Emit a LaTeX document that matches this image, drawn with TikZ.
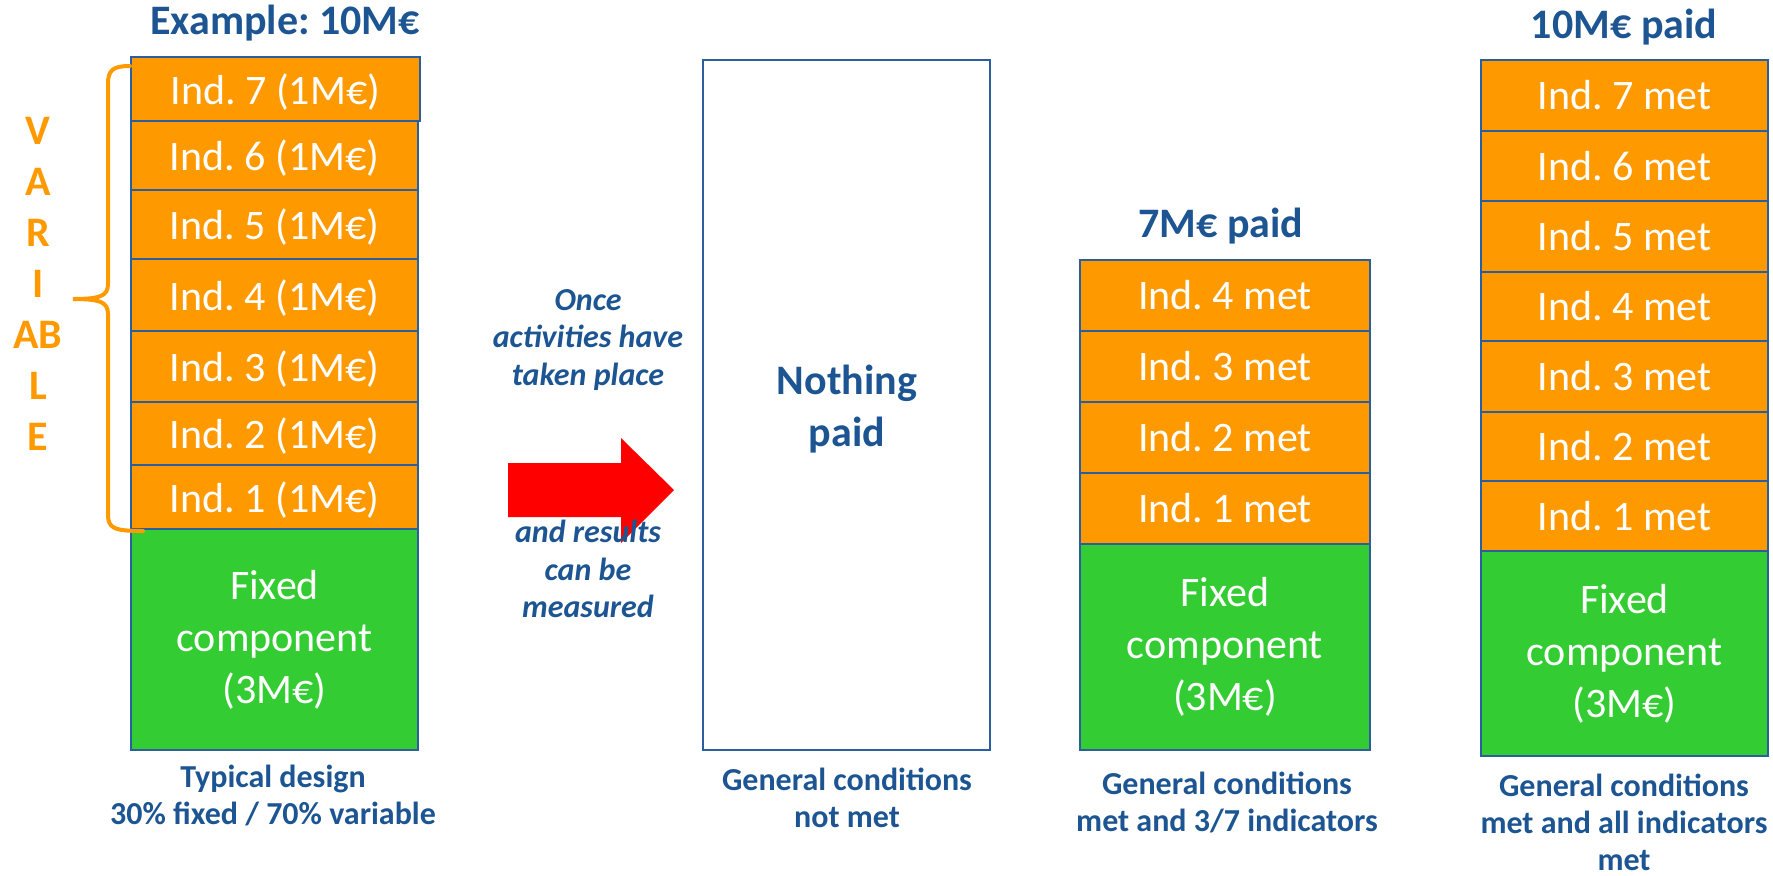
\documentclass[tikz,border=0pt]{standalone}
\usepackage{fontspec}
\setmainfont{Carlito}
\definecolor{orng}{HTML}{FF9900}
\definecolor{grn}{HTML}{33CC33}
\definecolor{txtblue}{HTML}{1C5592}
\definecolor{bordblue}{HTML}{2A5E9E}
\definecolor{arrred}{HTML}{FF0000}
\frenchspacing
\begin{document}
\begin{tikzpicture}[x=0.4pt,y=-0.4pt,
  big/.style={font=\fontsize{16.8pt}{20.8pt}\selectfont},
  cell/.style={draw=bordblue, line width=0.8pt, inner sep=0pt, outer sep=0pt, text=white, big, align=center},
  indbox/.style={cell, fill=orng},
  fixbox/.style={cell, fill=grn},
  title/.style={text=txtblue, font=\fontsize{16.8pt}{20.8pt}\selectfont\bfseries},
  caption/.style={text=txtblue, align=center, font=\fontsize{12.8pt}{14.8pt}\selectfont\bfseries},
  note/.style={text=txtblue, align=center, font=\fontsize{12.8pt}{15pt}\selectfont\bfseries\itshape},
  varlbl/.style={text=orng, align=center, font=\fontsize{16.8pt}{20.4pt}\selectfont\bfseries}
]
\useasboundingbox (0,0) rectangle (1773,875);

% ---------- Column 1 ----------
\node[title] (t1) at (285,23) {Example: 10M€};
\node[indbox, text depth=0pt, minimum width=115.6pt, minimum height=25.6pt] (a7) at (275.5,89) {Ind. 7 (1M€)};
\node[indbox, text depth=0pt, minimum width=114.8pt, minimum height=27.6pt] (a6) at (274.5,155.5) {Ind. 6 (1M€)};
\node[indbox, text depth=0pt, minimum width=114.8pt, minimum height=27.6pt] (a5) at (274.5,224.5) {Ind. 5 (1M€)};
\node[indbox, text depth=0pt, minimum width=114.8pt, minimum height=28.8pt] (a4) at (274.5,295) {Ind. 4 (1M€)};
\node[indbox, text depth=0pt, minimum width=114.8pt, minimum height=28.4pt] (a3) at (274.5,366.5) {Ind. 3 (1M€)};
\node[indbox, text depth=0pt, minimum width=114.8pt, minimum height=25.2pt] (a2) at (274.5,433.5) {Ind. 2 (1M€)};
\node[indbox, text depth=0pt, minimum width=114.8pt, minimum height=25.6pt] (a1) at (274.5,497) {Ind. 1 (1M€)};
\node[fixbox, minimum width=114.8pt, minimum height=88.4pt] (af) at (274.5,639.5) {Fixed\\component\\(3M€)};
\node[caption] (c1) at (273,795) {Typical design\\30\% fixed / 70\% variable};

% brace and label
\draw[orng, line width=1.6pt, line cap=round]
  (130,66) .. controls (113,66) and (108,70) .. (108,84) -- (108,284)
  .. controls (108,296) and (100,299) .. (73,299)
  .. controls (100,299) and (108,302) .. (108,314) -- (108,514)
  .. controls (108,528) and (113,531) .. (143,531);
\node[varlbl] (var) at (38,284) {V\\A\\R\\I\\AB\\L\\E};

% ---------- Arrow and notes ----------
\fill[arrred] (508,463) -- (621,463) -- (621,438) -- (674,490) -- (621,543) -- (621,517) -- (508,517) -- cycle;
\node[note] (n1) at (588,340) {Once\\activities have\\taken place};
\node[note] (n2) at (588,569) {and results\\can be\\measured};

% ---------- Column 2 ----------
\node[draw=bordblue, line width=0.8pt, minimum width=114.8pt, minimum height=276pt, inner sep=0pt] (nb) at (846.5,405) {};
\node[title, align=center] (np) at (847,409) {Nothing\\paid};
\node[caption] (c2) at (847,798) {General conditions\\not met};

% ---------- Column 3 ----------
\node[title] (t3) at (1221,226) {7M€ paid};
\node[indbox, minimum width=116pt, minimum height=28.4pt] (b4) at (1225,295.5) {Ind. 4 met};
\node[indbox, minimum width=116pt, minimum height=28.4pt] (b3) at (1225,366.5) {Ind. 3 met};
\node[indbox, minimum width=116pt, minimum height=28.4pt] (b2) at (1225,437.5) {Ind. 2 met};
\node[indbox, minimum width=116pt, minimum height=28.4pt] (b1) at (1225,508.5) {Ind. 1 met};
\node[fixbox, minimum width=116pt, minimum height=82.4pt] (bf) at (1225,647) {Fixed\\component\\(3M€)};
\node[caption] (c3) at (1227,802) {General conditions\\met and 3/7 indicators};

% ---------- Column 4 ----------
\node[title] (t4) at (1624,27) {10M€ paid};
\node[indbox, minimum width=114.8pt, minimum height=28.4pt] (d7) at (1624.5,95.5) {Ind. 7 met};
\node[indbox, minimum width=114.8pt, minimum height=28pt] (d6) at (1624.5,166) {Ind. 6 met};
\node[indbox, minimum width=114.8pt, minimum height=28.4pt] (d5) at (1624.5,236.5) {Ind. 5 met};
\node[indbox, minimum width=114.8pt, minimum height=27.6pt] (d4) at (1624.5,306.5) {Ind. 4 met};
\node[indbox, minimum width=114.8pt, minimum height=28.4pt] (d3) at (1624.5,376.5) {Ind. 3 met};
\node[indbox, minimum width=114.8pt, minimum height=27.6pt] (d2) at (1624.5,446.5) {Ind. 2 met};
\node[indbox, minimum width=114.8pt, minimum height=28pt] (d1) at (1624.5,516) {Ind. 1 met};
\node[fixbox, minimum width=114.8pt, minimum height=82pt] (df) at (1624.5,653.5) {Fixed\\component\\(3M€)};
\node[caption] (c4) at (1624,822) {General conditions\\met and all indicators\\met};
\end{tikzpicture}
\end{document}
